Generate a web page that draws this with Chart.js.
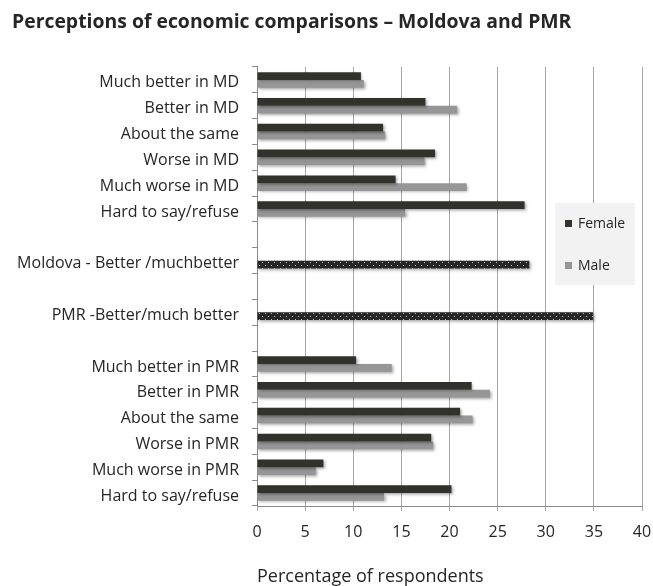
<!DOCTYPE html>
<html>
<head>
<meta charset="utf-8">
<script src="https://cdn.jsdelivr.net/npm/chart.js@4/dist/chart.umd.min.js"></script>
<style>
  html, body { margin: 0; padding: 0; background: #ffffff; }
  #wrap { position: relative; width: 653px; height: 586px; }
</style>
</head>
<body>
<div id="wrap"><canvas id="c" width="653" height="586"></canvas></div>
<script>
const titleText = "Perceptions of economic comparisons \u2013 Moldova and PMR";
const axisTitle = "Percentage of respondents";
const categories = [
  "Much better in MD", "Better in MD", "About the same", "Worse in MD",
  "Much worse in MD", "Hard to say/refuse", "",
  "Moldova - Better /muchbetter", "", "PMR -Better/much better", "",
  "Much better in PMR", "Better in PMR", "About the same", "Worse in PMR",
  "Much worse in PMR", "Hard to say/refuse"
];
const female = [10.8, 17.5, 13.1, 18.5, 14.4, 27.8, null, null, null, null, null, 10.3, 22.3, 21.1, 18.1, 6.9, 20.2];
const male   = [11.1, 20.8, 13.3, 17.4, 21.8, 15.4, null, null, null, null, null, 14.0, 24.2, 22.4, 18.3, 6.1, 13.2];
const overallBetter = [null, null, null, null, null, null, null, 28.3, null, 34.9, null, null, null, null, null, null, null];
const xTicks = [0, 5, 10, 15, 20, 25, 30, 35, 40];
const seriesNames = ["Female", "Male"];

const FEMALE_COLOR = "#31322c";
const MALE_COLOR = "#969696";
const FONT = "'Open Sans', 'Liberation Sans', sans-serif";

function makeDotPattern() {
  const t = document.createElement("canvas");
  t.width = 6; t.height = 6;
  const g = t.getContext("2d");
  g.fillStyle = "#262626";
  g.fillRect(0, 0, 6, 6);
  g.fillStyle = "#bdbdbd";
  g.fillRect(1, 1, 1, 1);
  g.fillRect(4, 4, 1, 1);
  return g.createPattern(t, "repeat");
}
const dotPattern = makeDotPattern();

const maleData = male.map((v, i) => overallBetter[i] != null ? overallBetter[i] : v);
const maleColors = male.map((v, i) => overallBetter[i] != null ? dotPattern : MALE_COLOR);

const shadowPlugin = {
  id: "barShadow",
  beforeDatasetsDraw(chart) {
    const ctx = chart.ctx;
    ctx.save();
    ctx.shadowColor = "rgba(0,0,0,0.35)";
    ctx.shadowBlur = 3;
    ctx.shadowOffsetX = 1.5;
    ctx.shadowOffsetY = 1.5;
  },
  afterDatasetsDraw(chart) {
    chart.ctx.restore();
  }
};

const legendPlugin = {
  id: "boxLegend",
  afterDraw(chart) {
    const ctx = chart.ctx;
    const ca = chart.chartArea;
    const x0 = ca.right - 87, y0 = ca.top + 136, w = 80, h = 82;
    ctx.save();
    ctx.fillStyle = "#f2f2f2";
    ctx.fillRect(x0, y0, w, h);
    ctx.font = "14px " + FONT;
    ctx.textBaseline = "middle";
    ctx.textAlign = "left";
    const colors = [FEMALE_COLOR, MALE_COLOR];
    const ys = [y0 + 21, y0 + 63];
    chart.data.datasets.forEach((ds, i) => {
      ctx.fillStyle = colors[i];
      ctx.fillRect(x0 + 10, ys[i] - 4, 7, 7);
      ctx.fillStyle = "#262626";
      ctx.fillText(ds.label, x0 + 23, ys[i]);
    });
    ctx.restore();
  }
};

new Chart(document.getElementById("c"), {
  type: "bar",
  data: {
    labels: categories,
    datasets: [
      { label: seriesNames[0], data: female, backgroundColor: FEMALE_COLOR,
        categoryPercentage: 0.6, barPercentage: 1.0 },
      { label: seriesNames[1], data: maleData, backgroundColor: maleColors,
        categoryPercentage: 0.6, barPercentage: 1.0 }
    ]
  },
  options: {
    indexAxis: "y",
    responsive: false,
    animation: false,
    devicePixelRatio: 1,
    layout: { padding: { left: 12, right: 0, top: 0, bottom: 0 } },
    plugins: {
      legend: { display: false },
      tooltip: { enabled: false },
      title: {
        display: true, text: titleText, align: "start", color: "#262626",
        font: { family: FONT, size: 19.4, weight: "bold", lineHeight: 1.2 },
        padding: { top: 10.4, bottom: 33.3 }
      }
    },
    scales: {
      x: {
        min: 0, max: 40,
        afterBuildTicks(scale) { scale.ticks = xTicks.map(v => ({ value: v })); },
        afterFit(scale) { scale.height = 80; scale.paddingRight = 11; scale.paddingLeft = 0; },
        grid: { color: "#a6a6a6", tickLength: 5, drawTicks: true, lineWidth: 1 },
        border: { display: true, color: "#8c8c8c" },
        ticks: { color: "#262626", font: { family: FONT, size: 16 }, padding: 11.4, maxRotation: 0 },
        title: { display: true, text: axisTitle, align: "start", color: "#262626",
                 font: { family: FONT, size: 18, lineHeight: 1.0 }, padding: { top: 0, bottom: 0 } }
      },
      y: {
        afterFit(scale) { scale.width = 245; scale.paddingTop = 0; scale.paddingBottom = 0; },
        grid: { display: true, drawOnChartArea: false, drawTicks: true, tickLength: 5, color: "#8c8c8c", offset: true },
        border: { display: true, color: "#8c8c8c" },
        ticks: { color: "#262626", font: { family: FONT, size: 16 }, padding: 13, autoSkip: false, labelOffset: 3 }
      }
    }
  },
  plugins: [shadowPlugin, legendPlugin]
});
</script>
</body>
</html>
